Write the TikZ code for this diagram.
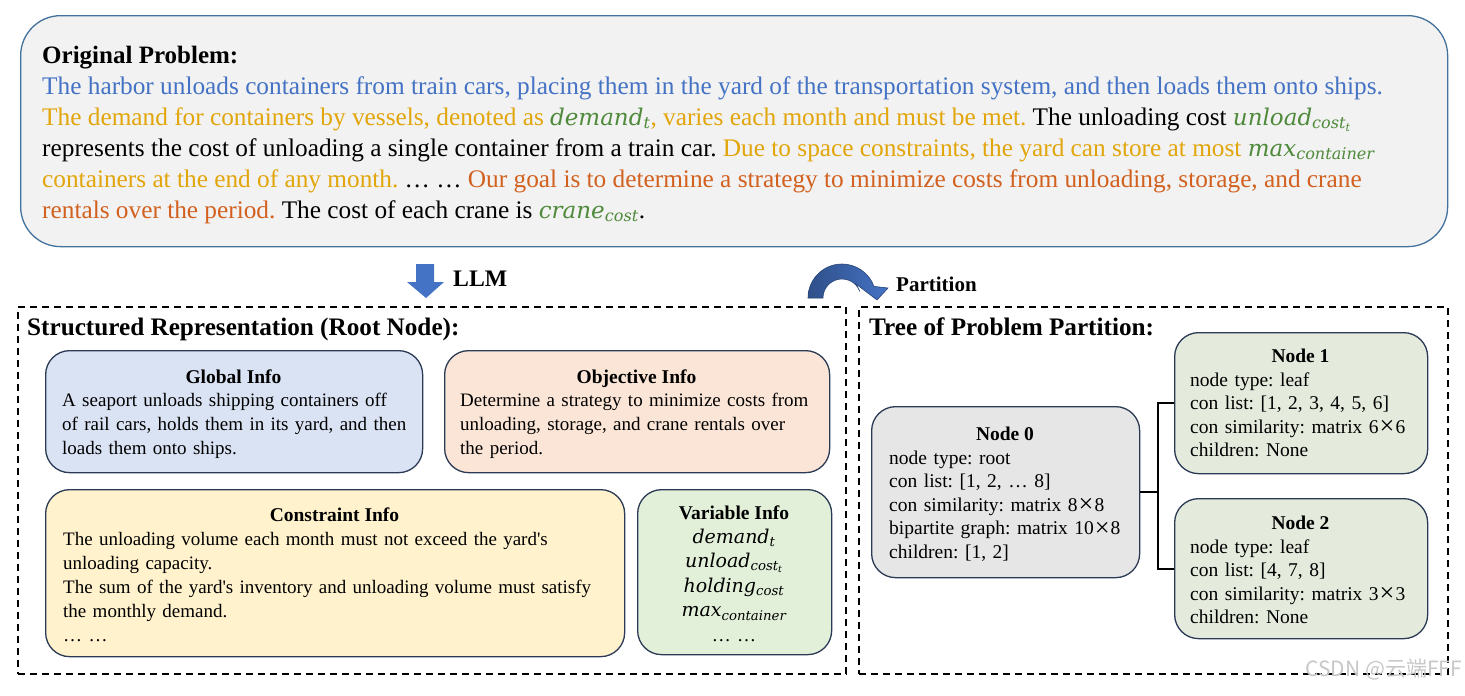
\documentclass[tikz,border=0pt]{standalone}
\usepackage{fontspec}
\setmainfont{Liberation Serif}
\newfontfamily\vfont{DejaVu Serif}
\newfontfamily\cjkfont{Noto Sans CJK SC}
\usetikzlibrary{calc}
\definecolor{cblue}{HTML}{4472C4}
\definecolor{cgold}{HTML}{E2A50A}
\definecolor{corange}{HTML}{D2601E}
\definecolor{cgreen}{HTML}{4E8A3A}
\definecolor{topfill}{HTML}{F2F2F2}
\definecolor{topdraw}{HTML}{41719C}
\definecolor{bxdraw}{HTML}{2B3A55}
\definecolor{fglobal}{HTML}{DAE3F3}
\definecolor{fobj}{HTML}{FBE5D6}
\definecolor{fcon}{HTML}{FFF2CC}
\definecolor{fvar}{HTML}{E2F0D9}
\definecolor{fnodez}{HTML}{E7E6E6}
\definecolor{fleaf}{HTML}{E4EADC}
\newcommand\vr[2]{{\vfont\itshape #1\textsubscript{#2}}}
\newcommand\tvr[2]{{\fontsize{23}{31}\selectfont\vfont\itshape #1\textsubscript{#2}}}
\newcommand\tms{\kern1pt\raisebox{-1.6pt}{\scalebox{1.35}{×}}\kern1pt}
\newcommand\apo{\textquotesingle}
\frenchspacing
\tikzset{
  topline/.style={anchor=base west, inner sep=0pt, font=\fontsize{25.3}{31}\selectfont},
  infobox/.style={draw=bxdraw, line width=1.3pt, rounded corners=24pt, inner sep=0pt, anchor=north west},
  boxtitle/.style={anchor=base, inner sep=0pt, font=\fontsize{19.5}{24}\selectfont\bfseries},
  boxbody/.style={anchor=base west, inner sep=0pt, align=left, text width=#1, font=\fontsize{19}{24}\selectfont},
  nodebody/.style={anchor=base west, inner sep=0pt, align=left, text width=#1, font=\fontsize{19.5}{23.6}\selectfont},
  frame/.style={draw=black, line width=1.6pt, dash pattern=on 7pt off 5pt, inner sep=0pt, anchor=north west},
  sectitle/.style={anchor=base west, inner sep=0pt, font=\fontsize{25.2}{28}\selectfont\bfseries},
  conn/.style={draw=black, line width=2.2pt},
}
\begin{document}
\begin{tikzpicture}[x=1pt,y=-1pt]
\useasboundingbox (0,0) rectangle (1465,696);
% original problem box
\node[draw=topdraw, fill=topfill, line width=1.3pt, rounded corners=40pt, inner sep=0pt,
      minimum width=1427pt, minimum height=231pt, anchor=north west] (orig) at (20,15) {};
\node[anchor=base west, inner sep=0pt, font=\fontsize{25}{28}\selectfont\bfseries] (origT) at (42,63) {Original Problem:};
\node[topline] (l1) at (42,94) {\textcolor{cblue}{The harbor unloads containers from train cars, placing them in the yard of the transportation system, and then loads them onto ships.}};
\node[topline] (l2) at (42,125) {\textcolor{cgold}{The demand for containers by vessels, denoted as \textcolor{cgreen}{\tvr{demand}{t}}, varies each month and must be met.} The unloading cost \textcolor{cgreen}{\tvr{unload}{cost\textsubscript{t}}}};
\node[topline] (l3) at (42,156) {represents the cost of unloading a single container from a train car. \textcolor{cgold}{Due to space constraints, the yard can store at most \textcolor{cgreen}{\tvr{max}{container}}}};
\node[topline] (l4) at (42,187) {\textcolor{cgold}{containers at the end of any month.} … … \textcolor{corange}{Our goal is to determine a strategy to minimize costs from unloading, storage, and crane}};
\node[topline] (l5) at (42,218) {\textcolor{corange}{rentals over the period.} The cost of each crane is \textcolor{cgreen}{\tvr{crane}{cost}}.};

% LLM arrow
\fill[cblue] (416,264) -- (434,264) -- (434,282) -- (444,282) -- (426,298) -- (407,282) -- (416,282) -- cycle;
\node[anchor=base west, inner sep=0pt, font=\fontsize{23.7}{26}\selectfont\bfseries] (llm) at (453,286) {LLM};

% Partition arrow
\shade[left color=cblue!70!black, right color=cblue, draw=cblue!60!black, line width=0.6pt]
  (808,298) arc[start angle=180, end angle=340, radius=34] -- (888,288) -- (877,300) -- (856,284)
  -- ($(842,298)+(340:19)$) arc[start angle=340, end angle=180, radius=19] -- cycle;
\node[anchor=base west, inner sep=0pt, font=\fontsize{21}{24}\selectfont\bfseries] (part) at (896,291) {Partition};

% frames
\node[frame, minimum width=828pt, minimum height=367pt] (leftF) at (17,306) {};
\node[frame, minimum width=589pt, minimum height=367pt] (rightF) at (858,306) {};
\node[sectitle] (leftT) at (27,335) {Structured Representation (Root Node):};
\node[sectitle] (rightT) at (869,335) {Tree of Problem Partition:};

% info boxes
\node[infobox, fill=fglobal, minimum width=377pt, minimum height=122pt] (global) at (45,350) {};
\node[boxtitle] (globalT) at (233.5,383) {Global Info};
\node[boxbody=360pt] (globalB) at (62,406) {A seaport unloads shipping containers off\\of rail cars, holds them in its yard, and then\\loads them onto ships.};

\node[infobox, fill=fobj, minimum width=385pt, minimum height=122pt] (obj) at (444,350) {};
\node[boxtitle] (objT) at (636.5,383) {Objective Info};
\node[boxbody=365pt] (objB) at (460,406) {Determine a strategy to minimize costs from\\unloading, storage, and crane rentals over\\the period.};

\node[infobox, fill=fcon, minimum width=579pt, minimum height=167pt] (con) at (45,489) {};
\node[boxtitle] (conT) at (334.5,521) {Constraint Info};
\node[boxbody=550pt] (conB) at (63,545) {The unloading volume each month must not exceed the yard\apo s\\unloading capacity.\\The sum of the yard\apo s inventory and unloading volume must satisfy\\the monthly demand.\\… …};

\node[infobox, fill=fvar, minimum width=194pt, minimum height=165pt] (var) at (637,489) {};
\node[boxtitle] (varT) at (734,519) {Variable Info};
\node[anchor=base, inner sep=0pt, align=center, text width=190pt, font=\fontsize{19}{24.5}\selectfont] (varB) at (734,543)
  {\vr{demand}{t}\\\vr{unload}{cost\textsubscript{t}}\\\vr{holding}{cost}\\\vr{max}{container}\\… …};

% tree nodes
\node[infobox, fill=fnodez, minimum width=268pt, minimum height=171pt] (n0) at (871,406) {};
\node[boxtitle] (n0T) at (1005,440) {Node 0};
\node[nodebody=250pt] (n0B) at (889,464) {node type: root\\con list: [1, 2, … 8]\\con similarity: matrix 8\tms 8\\bipartite graph: matrix 10\tms 8\\children: [1, 2]};

\node[infobox, fill=fleaf, minimum width=253pt, minimum height=141pt] (n1) at (1174,332) {};
\node[boxtitle] (n1T) at (1300.5,362) {Node 1};
\node[nodebody=235pt] (n1B) at (1190,386) {node type: leaf\\con list: [1, 2, 3, 4, 5, 6]\\con similarity: matrix 6\tms 6\\children: None};

\node[infobox, fill=fleaf, minimum width=253pt, minimum height=140pt] (n2) at (1174,498) {};
\node[boxtitle] (n2T) at (1300.5,529) {Node 2};
\node[nodebody=235pt] (n2B) at (1190,553) {node type: leaf\\con list: [4, 7, 8]\\con similarity: matrix 3\tms 3\\children: None};

% connectors
\draw[conn] (n0.east) -- ++(18,0) coordinate (jn);
\draw[conn] (n1.west) -| (jn) |- (n2.west);

% watermark
\node[anchor=base east, inner sep=0pt, text=black!22, font=\fontsize{21}{24}\cjkfont] (wm) at (1462,676) {CSDN @云端FFF};
\end{tikzpicture}
\end{document}
